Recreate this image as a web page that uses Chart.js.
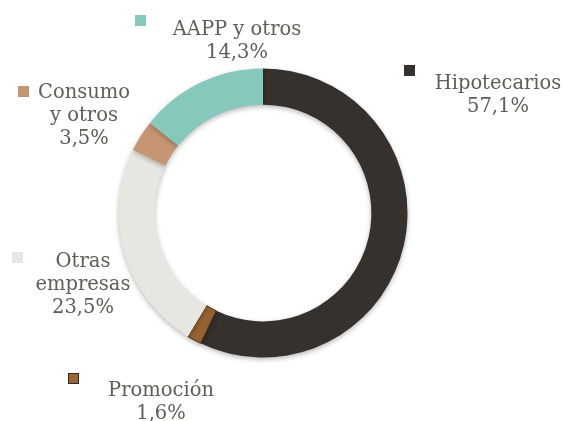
<!DOCTYPE html>
<html>
<head>
<meta charset="utf-8">
<script src="https://cdn.jsdelivr.net/npm/chart.js@4/dist/chart.umd.min.js"></script>
<style>
  html, body { margin: 0; padding: 0; background: #fff; }
  #wrap { width: 566px; height: 421px; position: relative; }
</style>
</head>
<body>
<div id="wrap"><canvas id="myChart" width="566" height="421"></canvas></div>
<script>
'use strict';

// data (clockwise from 12 o'clock)
var categories = ['Hipotecarios', 'Promoción', 'Otras empresas', 'Consumo y otros', 'AAPP y otros'];
var shares = [57.1, 1.6, 23.5, 3.5, 14.3];
// how each category label is broken into lines
var labelLines = [['Hipotecarios'], ['Promoción'], ['Otras', 'empresas'], ['Consumo', 'y otros'], ['AAPP y otros']];
var sliceColors = ['#36312c', '#9a6430', '#e8e6e0', '#c69673', '#86c8bb'];

// where each label block sits (marker square + centred text)
var labelBoxes = [
	{ mx: 404, my: 65, tx: 498, ty: 84 },
	{ mx: 68, my: 373, tx: 161, ty: 391 },
	{ mx: 12, my: 252, tx: 83, ty: 262 },
	{ mx: 18, my: 86, tx: 84, ty: 93 },
	{ mx: 135, my: 15, tx: 237, ty: 30 }
];

function fmtPct(v) {
	return v.toFixed(1).replace('.', ',') + '%';
}

var calloutPlugin = {
	id: 'callouts',
	beforeDatasetsDraw: function(chart) {
		var ctx = chart.ctx;
		ctx.save();
		ctx.shadowColor = 'rgba(0,0,0,0.28)';
		ctx.shadowBlur = 5;
		ctx.shadowOffsetY = 2;
	},
	afterDatasetsDraw: function(chart) {
		var ctx = chart.ctx;
		ctx.restore();
		ctx.save();
		ctx.font = '19.5px "DejaVu Serif"';
		ctx.textAlign = 'center';
		ctx.textBaseline = 'middle';
		for (var i = 0; i < categories.length; i++) {
			var b = labelBoxes[i];
			ctx.fillStyle = sliceColors[i];
			ctx.fillRect(b.mx, b.my, 11, 11);
			if (i === 1) {
				ctx.strokeStyle = '#2e2a25';
				ctx.lineWidth = 1;
				ctx.strokeRect(b.mx + 0.5, b.my + 0.5, 10, 10);
			}
			ctx.fillStyle = '#5e6056';
			var lines = labelLines[i].concat([fmtPct(shares[i])]);
			for (var j = 0; j < lines.length; j++) {
				ctx.fillText(lines[j], b.tx, b.ty + j * 23);
			}
		}
		ctx.restore();
	}
};

var ctx = document.getElementById('myChart');
var myChart = new Chart(ctx, {
	type: 'doughnut',
	data: {
		labels: categories,
		datasets: [{
			data: shares,
			backgroundColor: sliceColors,
			borderColor: ['#36312c', '#3a2e22', '#e8e6e0', '#c69673', '#86c8bb'],
			borderWidth: [0, 1, 0, 0, 0]
		}]
	},
	options: {
		responsive: false,
		animation: false,
		cutout: '75%',
		layout: { padding: { top: 68, bottom: 63, left: 117, right: 157 } },
		plugins: {
			legend: { display: false },
			tooltip: { enabled: false }
		}
	},
	plugins: [calloutPlugin]
});
</script>
</body>
</html>
